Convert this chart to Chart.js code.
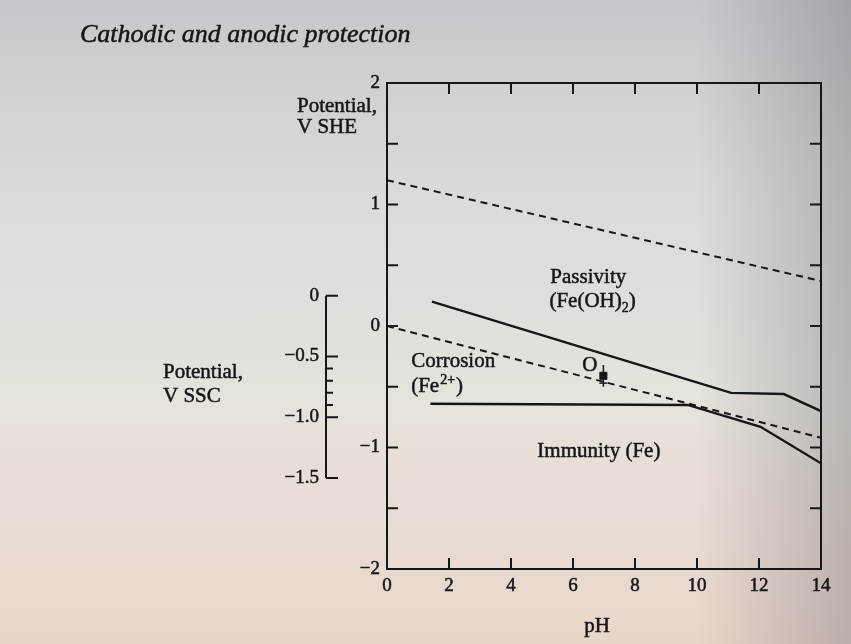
<!DOCTYPE html>
<html>
<head>
<meta charset="utf-8">
<title>Pourbaix diagram for iron</title>
<script src="https://cdn.jsdelivr.net/npm/chart.js@4.4.1/dist/chart.umd.min.js"></script>
<style>
  html, body { margin: 0; padding: 0; }
  body {
    width: 851px; height: 644px; overflow: hidden;
    background:
      linear-gradient(90deg, rgba(0,0,0,0) 82%, rgba(70,72,80,0.28) 100%),
      linear-gradient(180deg, #c5c8cc 0%, #dadbda 30%, #e6e2dc 62%, #e9d6ca 100%);
  }
  canvas { display: block; }
</style>
</head>
<body>
<canvas id="pourbaix" width="851" height="644"></canvas>
<script>
// axis ticks
const phTicks = [0, 2, 4, 6, 8, 10, 12, 14];
const sheTicks = [-2, -1, 0, 1, 2];
const sheMinor = [-1.5, -0.5, 0.5, 1.5];
const sscTicks = [0, -0.5, -1.0, -1.5];
const sscMinor = [-0.6, -0.7, -0.8, -0.9];
const sscShift = 0.25; // SSC scale sits 0.25 V below SHE on this drawing

// water stability lines (dashed)
const o2Ph = [0, 14];
const o2E = [1.20, 0.37];
const h2Ph = [0, 14];
const h2E = [0, -0.92];

// Fe2+ / Fe(OH)2 boundary
const passPh = [1.45, 11.1, 12.8, 14];
const passE = [0.20, -0.55, -0.56, -0.70];
// Fe / Fe2+ and Fe / Fe(OH)2 boundary
const immPh = [1.4, 9.7, 12.05, 14];
const immE = [-0.64, -0.65, -0.83, -1.13];

// measured point O and its spread
const oPh = [6.98];
const oE = [-0.41];
const oSpread = [-0.32, -0.50];
const oBar = -0.47;

const INK = "#161616";
const SERIF = "'Liberation Serif', 'DejaVu Serif', serif";

const pts = (xs, ys) => xs.map((x, i) => ({ x, y: ys[i] }));
const minus = (s) => String(s).replace("-", "\u2212");

// frame, inward ticks, SSC bar and the text on the page
const paperPlugin = {
  id: "paper",
  afterDraw(chart) {
    const { ctx, chartArea: a, scales } = chart;
    const x = scales.x, y = scales.y, s = scales.ssc;
    ctx.save();
    ctx.strokeStyle = INK;
    ctx.lineWidth = 2;
    ctx.strokeRect(a.left, a.top, a.right - a.left, a.bottom - a.top);

    const T = 11;
    ctx.beginPath();
    phTicks.slice(1, -1).forEach(v => {
      const px = x.getPixelForValue(v);
      ctx.moveTo(px, a.bottom); ctx.lineTo(px, a.bottom - T);
      ctx.moveTo(px, a.top); ctx.lineTo(px, a.top + T);
    });
    sheTicks.slice(1, -1).concat(sheMinor).forEach(v => {
      const py = y.getPixelForValue(v);
      ctx.moveTo(a.left, py); ctx.lineTo(a.left + T, py);
      ctx.moveTo(a.right, py); ctx.lineTo(a.right - T, py);
    });
    ctx.stroke();

    // secondary SSC bar
    const bx = s.right - 2;
    ctx.beginPath();
    ctx.moveTo(bx, s.getPixelForValue(sscTicks[0]));
    ctx.lineTo(bx, s.getPixelForValue(sscTicks[sscTicks.length - 1]));
    sscTicks.forEach(v => {
      const py = s.getPixelForValue(v);
      ctx.moveTo(bx, py); ctx.lineTo(bx + 12, py);
    });
    sscMinor.forEach(v => {
      const py = s.getPixelForValue(v);
      ctx.moveTo(bx, py); ctx.lineTo(bx + 7, py);
    });
    ctx.stroke();

    // crossbar on point O
    const ox = x.getPixelForValue(oPh[0]);
    const oy = y.getPixelForValue(oBar);
    ctx.lineWidth = 1.5;
    ctx.beginPath();
    ctx.moveTo(ox - 4, oy); ctx.lineTo(ox + 4, oy);
    ctx.stroke();

    ctx.fillStyle = INK;
    ctx.lineWidth = 0.5;
    ctx.textBaseline = "alphabetic";
    ctx.textAlign = "left";
    const font = (size, style) => `${style || ""} ${size}px ${SERIF}`;
    const text = (str, px, py, size, style) => {
      ctx.font = font(size, style);
      ctx.fillText(str, px, py);
      ctx.strokeText(str, px, py);
      return px + ctx.measureText(str).width;
    };
    const at = (ph, e) => [x.getPixelForValue(ph), y.getPixelForValue(e)];

    text("Cathodic and anodic protection", 80, 42, 26, "italic");

    text("Potential,", a.left - 90, 112, 21);
    text("V SHE", a.left - 90, 133, 21);
    text("Potential,", 163, 378, 21);
    text("V SSC", 163, 402, 21);

    ctx.textAlign = "center";
    text("pH", 597, 632, 21);
    ctx.textAlign = "left";

    let [px, py] = at(5.27, 0.35);
    text("Passivity", px, py, 21);
    [px, py] = at(5.24, 0.16);
    let nx = text("(Fe(OH)", px, py, 21);
    nx = text("2", nx, py + 5, 14);
    text(")", nx, py, 21);

    [px, py] = at(0.78, -0.34);
    text("Corrosion", px, py, 21);
    [px, py] = at(0.78, -0.54);
    nx = text("(Fe", px, py, 21);
    nx = text("2+", nx + 1, py - 8, 14);
    text(")", nx + 1, py, 21);

    [px, py] = at(4.85, -1.075);
    text("Immunity (Fe)", px, py, 21);

    [px, py] = at(6.3, -0.372);
    text("O", px, py, 21);
    ctx.restore();
  }
};

const lineSet = (label, data, dashed, width) => ({
  label,
  data,
  showLine: true,
  borderColor: INK,
  borderWidth: width,
  borderDash: dashed ? [7, 5] : [],
  pointRadius: 0,
  fill: false
});

const tickFont = { family: SERIF, size: 19 };

new Chart(document.getElementById("pourbaix"), {
  type: "scatter",
  data: {
    datasets: [
      lineSet("O2 / H2O", pts(o2Ph, o2E), true, 2),
      lineSet("H+ / H2", pts(h2Ph, h2E), true, 2),
      lineSet("Fe2+ / Fe(OH)2", pts(passPh, passE), false, 2.4),
      lineSet("Fe / Fe2+", pts(immPh, immE), false, 2.4),
      lineSet("O spread", [{ x: oPh[0], y: oSpread[0] }, { x: oPh[0], y: oSpread[1] }], false, 1.5),
      {
        label: "O",
        data: pts(oPh, oE),
        pointStyle: "rect",
        pointRadius: 5,
        backgroundColor: INK,
        borderColor: INK,
        showLine: false
      }
    ]
  },
  options: {
    responsive: false,
    animation: false,
    events: [],
    layout: { padding: { left: 228, top: 83, right: 30, bottom: 35 } },
    plugins: {
      legend: { display: false },
      tooltip: { enabled: false },
      title: { display: false }
    },
    scales: {
      x: {
        type: "linear",
        position: "bottom",
        min: 0,
        max: 14,
        afterBuildTicks: (sc) => { sc.ticks = phTicks.map(v => ({ value: v })); },
        afterFit: (sc) => { sc.height = 40; },
        ticks: { color: INK, font: tickFont, padding: 6, maxRotation: 0, textStrokeColor: INK, textStrokeWidth: 0.5 },
        grid: { display: false, drawTicks: false },
        border: { display: false }
      },
      y: {
        type: "linear",
        position: "left",
        weight: 0,
        min: -2,
        max: 2,
        afterBuildTicks: (sc) => { sc.ticks = sheTicks.map(v => ({ value: v })); },
        afterFit: (sc) => { sc.width = 59; },
        ticks: { color: INK, font: tickFont, padding: 7, textStrokeColor: INK, textStrokeWidth: 0.5, callback: v => minus(v) },
        grid: { display: false, drawTicks: false },
        border: { display: false }
      },
      ssc: {
        type: "linear",
        position: "left",
        weight: 1,
        min: -2 - sscShift,
        max: 2 - sscShift,
        afterBuildTicks: (sc) => { sc.ticks = sscTicks.map(v => ({ value: v })); },
        afterFit: (sc) => { sc.width = 100; },
        ticks: {
          color: INK,
          font: tickFont,
          padding: 9,
          textStrokeColor: INK,
          textStrokeWidth: 0.5,
          callback: v => (v === 0 ? "0" : minus(v.toFixed(1)))
        },
        grid: { display: false, drawTicks: false },
        border: { display: false }
      }
    }
  },
  plugins: [paperPlugin]
});
</script>
</body>
</html>
